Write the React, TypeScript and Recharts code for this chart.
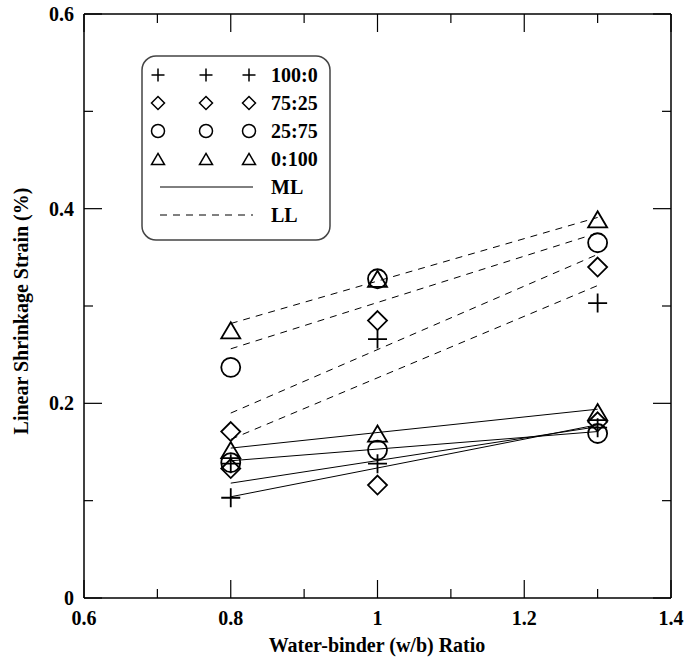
import React from 'react';
import { ScatterChart, Scatter, XAxis, YAxis } from 'recharts';

// ---- data ----
const wbRatios = [0.8, 1.0, 1.3];
const mixLabels = ['100:0', '75:25', '25:75', '0:100'];
const mixShapes = ['plus', 'diamond', 'circle', 'triangle'];

// Linear shrinkage strain (%) — LL series
const ll100_0 = [0.138, 0.266, 0.303];
const ll75_25 = [0.171, 0.285, 0.34];
const ll25_75 = [0.237, 0.328, 0.365];
const ll0_100 = [0.275, 0.328, 0.389];
// ML series
const ml100_0 = [0.103, 0.138, 0.175];
const ml75_25 = [0.133, 0.116, 0.181];
const ml25_75 = [0.139, 0.152, 0.169];
const ml0_100 = [0.152, 0.169, 0.191];

// fitted lines (ends at w/b 0.8 and 1.3)
const fitX = [0.8, 1.3];
const llFit100_0 = [0.163, 0.321];
const llFit75_25 = [0.19, 0.353];
const llFit25_75 = [0.256, 0.375];
const llFit0_100 = [0.282, 0.391];
const mlFit100_0 = [0.104, 0.178];
const mlFit75_25 = [0.118, 0.176];
const mlFit25_75 = [0.141, 0.171];
const mlFit0_100 = [0.154, 0.194];

// axis ticks
const xMajorTicks = [0.6, 0.8, 1, 1.2, 1.4];
const xMinorTicks = [0.7, 0.9, 1.1, 1.3];
const yMajorTicks = [0, 0.2, 0.4, 0.6];
const yMinorTicks = [0.1, 0.3, 0.5];

const llSeries = [ll100_0, ll75_25, ll25_75, ll0_100];
const mlSeries = [ml100_0, ml75_25, ml25_75, ml0_100];
const llFits = [llFit100_0, llFit75_25, llFit25_75, llFit0_100];
const mlFits = [mlFit100_0, mlFit75_25, mlFit25_75, mlFit0_100];

const toPoints = (xs: number[], ys: number[]) => xs.map((x, i) => ({ x, y: ys[i] }));

const xTicks = [...xMajorTicks, ...xMinorTicks].sort((a, b) => a - b);
const yTicks = [...yMajorTicks, ...yMinorTicks].sort((a, b) => a - b);

const FONT = "'Liberation Serif', 'Times New Roman', Times, serif";

const MAJOR = 18;
const MINOR = 9;

function Marker({ kind, cx, cy, h = 9.5, sw = 1.8 }: any) {
  if (cx == null || cy == null) return <g />;
  const common = { fill: 'none', stroke: '#000', strokeWidth: sw };
  switch (kind) {
    case 'plus':
      return <path d={`M${cx - h},${cy}H${cx + h}M${cx},${cy - h}V${cy + h}`} {...common} />;
    case 'diamond':
      return <path d={`M${cx},${cy - h}L${cx + h},${cy}L${cx},${cy + h}L${cx - h},${cy}Z`} {...common} />;
    case 'circle':
      return <circle cx={cx} cy={cy} r={h} {...common} />;
    case 'triangle': {
      const th = h * 0.85;
      return <path d={`M${cx},${cy - th}L${cx + h},${cy + th}L${cx - h},${cy + th}Z`} {...common} />;
    }
    default:
      return <g />;
  }
}

const isMajor = (arr: number[], v: number) => arr.some((m) => Math.abs(m - v) < 1e-9);

const BottomTick = (props: any) => {
  const { x, y, payload } = props;
  const v = payload.value;
  const major = isMajor(xMajorTicks, v);
  return (
    <g>
      <line x1={x} x2={x} y1={y} y2={y - (major ? MAJOR : MINOR)} stroke="#000" strokeWidth={1.2} />
      {major && (
        <text x={x} y={y + 27} textAnchor="middle" fontFamily={FONT} fontWeight="bold" fontSize={20} fill="#000">
          {String(v)}
        </text>
      )}
    </g>
  );
};

const TopTick = (props: any) => {
  const { x, y, payload } = props;
  const major = isMajor(xMajorTicks, payload.value);
  return <line x1={x} x2={x} y1={y} y2={y + (major ? MAJOR : MINOR)} stroke="#000" strokeWidth={1.2} />;
};

const LeftTick = (props: any) => {
  const { x, y, payload } = props;
  const v = payload.value;
  const major = isMajor(yMajorTicks, v);
  return (
    <g>
      <line x1={x} x2={x + (major ? MAJOR : MINOR)} y1={y} y2={y} stroke="#000" strokeWidth={1.2} />
      {major && (
        <text x={x - 10} y={y + 7} textAnchor="end" fontFamily={FONT} fontWeight="bold" fontSize={20} fill="#000">
          {String(v)}
        </text>
      )}
    </g>
  );
};

const RightTick = (props: any) => {
  const { x, y, payload } = props;
  const major = isMajor(yMajorTicks, payload.value);
  return <line x1={x} x2={x - (major ? MAJOR : MINOR)} y1={y} y2={y} stroke="#000" strokeWidth={1.2} />;
};

function LegendBox() {
  const rowY = [20, 48, 76, 104, 132, 160];
  const colX = [17, 65, 108];
  return (
    <svg width={192} height={188} style={{ position: 'absolute', left: 141, top: 55, overflow: 'visible' }}>
      <rect x={1} y={1} width={188} height={184} rx={14} ry={14} fill="#fff" stroke="#444" strokeWidth={1.5} />
      {mixLabels.map((lab, i) => (
        <g key={lab}>
          {colX.map((cx) => (
            <Marker key={cx} kind={mixShapes[i]} cx={cx} cy={rowY[i]} h={6.5} sw={1.5} />
          ))}
          <text x={130} y={rowY[i] + 7} fontFamily={FONT} fontWeight="bold" fontSize={20} fill="#000">
            {lab}
          </text>
        </g>
      ))}
      <line x1={19} x2={112} y1={rowY[4]} y2={rowY[4]} stroke="#000" strokeWidth={1} />
      <text x={130} y={rowY[4] + 7} fontFamily={FONT} fontWeight="bold" fontSize={20} fill="#000">ML</text>
      <line x1={19} x2={112} y1={rowY[5]} y2={rowY[5]} stroke="#000" strokeWidth={1} strokeDasharray="7 6" />
      <text x={130} y={rowY[5] + 7} fontFamily={FONT} fontWeight="bold" fontSize={20} fill="#000">LL</text>
    </svg>
  );
}

export default function App() {
  const dashedLine = { stroke: '#000', strokeWidth: 1, strokeDasharray: '7 6' };
  const solidLine = { stroke: '#000', strokeWidth: 1 };
  const noShape = () => <g />;
  const axisLine = { stroke: '#000', strokeWidth: 1.5 };
  return (
    <div style={{ position: 'absolute', left: 0, top: 0, width: 685, height: 660, background: '#fff' }}>
      <ScatterChart width={685} height={660} margin={{ top: 13, right: 13, bottom: 61, left: 83 }}>
        <XAxis
          xAxisId="b"
          dataKey="x"
          type="number"
          domain={[0.6, 1.4]}
          ticks={xTicks}
          interval={0}
          orientation="bottom"
          height={1}
          tickSize={0}
          tickMargin={0}
          axisLine={axisLine}
          tickLine={false}
          tick={<BottomTick />}
          allowDataOverflow
        />
        <XAxis
          xAxisId="t"
          dataKey="x"
          type="number"
          domain={[0.6, 1.4]}
          ticks={xTicks}
          interval={0}
          orientation="top"
          height={1}
          tickSize={0}
          tickMargin={0}
          axisLine={axisLine}
          tickLine={false}
          tick={<TopTick />}
          allowDataOverflow
        />
        <YAxis
          yAxisId="l"
          dataKey="y"
          type="number"
          domain={[0, 0.6]}
          ticks={yTicks}
          interval={0}
          orientation="left"
          width={1}
          tickSize={0}
          tickMargin={0}
          axisLine={axisLine}
          tickLine={false}
          tick={<LeftTick />}
          allowDataOverflow
        />
        <YAxis
          yAxisId="r"
          dataKey="y"
          type="number"
          domain={[0, 0.6]}
          ticks={yTicks}
          interval={0}
          orientation="right"
          width={1}
          tickSize={0}
          tickMargin={0}
          axisLine={axisLine}
          tickLine={false}
          tick={<RightTick />}
          allowDataOverflow
        />
        {/* fitted lines */}
        {llFits.map((f, i) => (
          <Scatter
            key={'llf' + i}
            xAxisId={i === 0 ? 't' : 'b'}
            yAxisId={i === 0 ? 'r' : 'l'}
            data={toPoints(fitX, f)}
            line={dashedLine}
            shape={noShape}
            isAnimationActive={false}
          />
        ))}
        {mlFits.map((f, i) => (
          <Scatter
            key={'mlf' + i}
            xAxisId="b"
            yAxisId="l"
            data={toPoints(fitX, f)}
            line={solidLine}
            shape={noShape}
            isAnimationActive={false}
          />
        ))}
        {/* measured points */}
        {llSeries.map((s, i) => (
          <Scatter
            key={'ll' + i}
            xAxisId="b"
            yAxisId="l"
            data={toPoints(wbRatios, s)}
            shape={(p: any) => <Marker kind={mixShapes[i]} cx={p.cx} cy={p.cy} />}
            isAnimationActive={false}
          />
        ))}
        {mlSeries.map((s, i) => (
          <Scatter
            key={'ml' + i}
            xAxisId="b"
            yAxisId="l"
            data={toPoints(wbRatios, s)}
            shape={(p: any) => <Marker kind={mixShapes[i]} cx={p.cx} cy={p.cy} />}
            isAnimationActive={false}
          />
        ))}
      </ScatterChart>
      <svg width={685} height={660} style={{ position: 'absolute', left: 0, top: 0, pointerEvents: 'none' }}>
        <text
          transform="translate(28,311) rotate(-90)"
          textAnchor="middle"
          fontFamily={FONT}
          fontWeight="bold"
          fontSize={20}
          fill="#000"
        >
          Linear Shrinkage Strain (%)
        </text>
        <text x={377} y={652} textAnchor="middle" fontFamily={FONT} fontWeight="bold" fontSize={20} fill="#000">
          Water-binder (w/b) Ratio
        </text>
      </svg>
      <LegendBox />
    </div>
  );
}
